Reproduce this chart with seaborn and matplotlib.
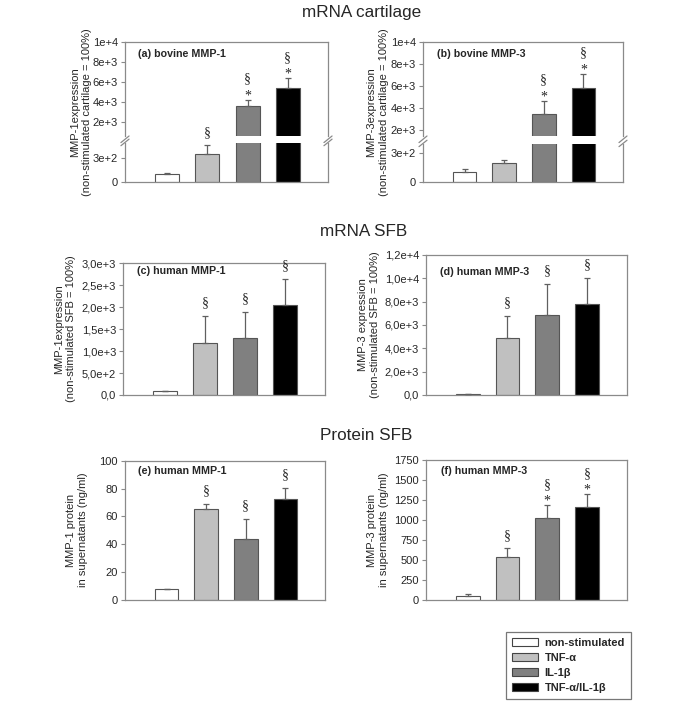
import matplotlib
matplotlib.use("Agg")
import matplotlib.pyplot as plt
from matplotlib.patches import Patch
import seaborn as sns
import pandas as pd

# ---------------- data ----------------
categories = ["non-stimulated", "TNF-α", "IL-1β", "TNF-α/IL-1β"]
bar_colors = ["#ffffff", "#c0c0c0", "#808080", "#000000"]

a_mean = [100, 360, 3600, 5350]
a_err = [15, 110, 600, 1000]
a_marks = ["", "§", "§*", "§*"]

b_mean = [100, 195, 3500, 5800]
b_err = [35, 40, 1200, 1350]
b_marks = ["", "", "§*", "§*"]

c_mean = [100, 1180, 1300, 2050]
c_err = [0, 620, 590, 600]
c_marks = ["", "§", "§", "§"]

d_mean = [60, 4900, 6900, 7800]
d_err = [0, 1870, 2620, 2230]
d_marks = ["", "§", "§", "§"]

e_mean = [7.6, 65, 43.5, 72.6]
e_err = [0.4, 4, 14.8, 7.9]
e_marks = ["", "§", "§", "§"]

f_mean = [46, 533, 1021, 1158]
f_err = [29, 113, 166, 163]
f_marks = ["", "§", "§*", "§*"]

ab_upper_ticks = [2000, 4000, 6000, 8000, 10000]
ab_upper_labels = ["2e+3", "4e+3", "6e+3", "8e+3", "1e+4"]
ab_lower_ticks = [0, 300]
ab_lower_labels = ["0", "3e+2"]
c_ticks = [0, 500, 1000, 1500, 2000, 2500, 3000]
c_labels = ["0,0", "5,0e+2", "1,0e+3", "1,5e+3", "2,0e+3", "2,5e+3", "3,0e+3"]
d_ticks = [0, 2000, 4000, 6000, 8000, 10000, 12000]
d_labels = ["0,0", "2,0e+3", "4,0e+3", "6,0e+3", "8,0e+3", "1,0e+4", "1,2e+4"]
e_ticks = [0, 20, 40, 60, 80, 100]
e_labels = ["0", "20", "40", "60", "80", "100"]
f_ticks = [0, 250, 500, 750, 1000, 1250, 1500, 1750]
f_labels = ["0", "250", "500", "750", "1000", "1250", "1500", "1750"]

section_titles = ["mRNA cartilage", "mRNA SFB", "Protein SFB"]
panel_labels = ["(a) bovine MMP-1", "(b) bovine MMP-3", "(c) human MMP-1",
                "(d) human MMP-3", "(e) human MMP-1", "(f) human MMP-3"]
ylabels = ["MMP-1expression\n(non-stimulated cartilage = 100%)",
           "MMP-3expression\n(non-stimulated cartilage = 100%)",
           "MMP-1expression\n(non-stimulated SFB = 100%)",
           "MMP-3 expression\n(non-stimulated SFB = 100%)",
           "MMP-1 protein\nin supernatants (ng/ml)",
           "MMP-3 protein\nin supernatants (ng/ml)"]

# ---------------- style ----------------
sns.set_style("white")
plt.rcParams["font.family"] = ["Liberation Sans", "DejaVu Sans"]

W, H = 685, 701
fig = plt.figure(figsize=(W / 100, H / 100), dpi=100)

SPINE = "#8a8a8a"
EDGE = "#555555"
ERRC = "#606060"
XLIM = (-1.05, 4.0)


def px_axes(left, top, right, bottom):
    return fig.add_axes([left / W, 1 - bottom / H, (right - left) / W, (bottom - top) / H])


def style_ax(ax, ticks, labels, ylim):
    ax.set_ylim(*ylim)
    ax.set_xlim(*XLIM)
    ax.set_yticks(ticks)
    ax.set_yticklabels(labels)
    ax.set_xticks([])
    ax.set_xlabel("")
    ax.set_ylabel("")
    ax.tick_params(axis="y", direction="out", length=3, width=0.8, color=SPINE,
                   labelsize=8, pad=2, left=True, right=False)
    for s in ax.spines.values():
        s.set_color(SPINE)
        s.set_linewidth(0.9)


def draw_bars(ax, mean, err):
    df = pd.DataFrame({"cond": categories, "val": mean})
    sns.barplot(data=df, x="cond", y="val", hue="cond", order=categories,
                hue_order=categories, palette=bar_colors, legend=False,
                width=0.6, edgecolor=EDGE, linewidth=0.8, ax=ax, errorbar=None)
    ax.errorbar(range(len(mean)), mean, yerr=[[0] * len(mean), err], fmt="none",
                ecolor=ERRC, elinewidth=0.9, capsize=2.2, capthick=0.9, zorder=3)


def draw_marks(ax_for, mean, err, marks):
    for i, (m, e, mk) in enumerate(zip(mean, err, marks)):
        if not mk:
            continue
        top = m + e
        ax = ax_for(top)
        if "*" in mk:
            ax.annotate("*", xy=(i, top), xytext=(0, 0.3), textcoords="offset points",
                        ha="center", va="baseline", fontsize=10,
                        family="Liberation Serif", clip_on=False, annotation_clip=False)
            ax.annotate("§", xy=(i, top), xytext=(0, 12.3), textcoords="offset points",
                        ha="center", va="baseline", fontsize=10,
                        family="Liberation Serif", clip_on=False, annotation_clip=False)
        else:
            ax.annotate("§", xy=(i, top), xytext=(0, 6.8), textcoords="offset points",
                        ha="center", va="baseline", fontsize=10,
                        family="Liberation Serif", clip_on=False, annotation_clip=False)


def panel_label(ax, text, dx, dy):
    ax.annotate(text, xy=(0, 1), xycoords="axes fraction", xytext=(dx, dy),
                textcoords="offset points", ha="left", va="center",
                fontsize=7.7, fontweight="bold")


def break_marks(ax_up, ax_lo):
    d = 0.02
    kw = dict(color=SPINE, clip_on=False, lw=0.9)
    for x in (0, 1):
        ax_up.plot([x - d, x + d], [-0.07, 0.0], transform=ax_up.transAxes, **kw)
        ax_lo.plot([x - d, x + d], [0.93, 1.1], transform=ax_lo.transAxes, **kw)


def broken_panel(left, right, top, split_up, split_lo, bottom, mean, err, marks,
                 up_lim, lo_lim, label, lab_off):
    ax_up = px_axes(left, top, right, split_up)
    ax_lo = px_axes(left, split_lo, right, bottom)
    draw_bars(ax_up, mean, err)
    draw_bars(ax_lo, mean, err)
    style_ax(ax_up, ab_upper_ticks, ab_upper_labels, up_lim)
    style_ax(ax_lo, ab_lower_ticks, ab_lower_labels, lo_lim)
    ax_up.spines["bottom"].set_visible(False)
    ax_lo.spines["top"].set_visible(False)
    break_marks(ax_up, ax_lo)
    draw_marks(lambda v: ax_up if v > lo_lim[1] else ax_lo, mean, err, marks)
    panel_label(ax_up, label, *lab_off)
    return ax_up, ax_lo


def simple_panel(left, right, top, bottom, mean, err, marks, ticks, labels, ylim,
                 label, lab_off):
    ax = px_axes(left, top, right, bottom)
    draw_bars(ax, mean, err)
    style_ax(ax, ticks, labels, ylim)
    draw_marks(lambda v: ax, mean, err, marks)
    panel_label(ax, label, *lab_off)
    return ax


# (a) and (b): broken axes
broken_panel(125, 328, 42, 136, 143, 181.7, a_mean, a_err, a_marks,
             (560, 10000), (0, 500), panel_labels[0], (9.5, -8.8))
broken_panel(423, 623, 42, 136, 144, 181.7, b_mean, b_err, b_marks,
             (1500, 10000), (0, 400), panel_labels[1], (9.8, -8.9))

# (c)-(f)
simple_panel(123, 325, 263.3, 395, c_mean, c_err, c_marks, c_ticks, c_labels,
             (0, 3000), panel_labels[2], (10, -5.6))
simple_panel(426, 626.7, 255, 395, d_mean, d_err, d_marks, d_ticks, d_labels,
             (0, 12000), panel_labels[3], (10, -12.3))
simple_panel(125, 325, 460.7, 600, e_mean, e_err, e_marks, e_ticks, e_labels,
             (0, 100), panel_labels[4], (9.2, -7.4))
simple_panel(426, 626.7, 460, 600, f_mean, f_err, f_marks, f_ticks, f_labels,
             (0, 1750), panel_labels[5], (10.5, -7.9))

# y labels (centered on each panel)
ylab_pos = [(81.5, 111.8), (377.5, 111.8), (65, 329), (369, 325), (76.5, 530), (378, 530)]
for txt, (x, y) in zip(ylabels, ylab_pos):
    fig.text(x / W, 1 - y / H, txt, rotation=90, ha="center", va="center",
             multialignment="center", fontsize=8, linespacing=1.25)

# section titles
title_pos = [(362, 12.5), (364, 231.5), (366, 436)]
for txt, (x, y) in zip(section_titles, title_pos):
    fig.text(x / W, 1 - y / H, txt, ha="center", va="center", fontsize=12.3)

# legend
handles = [Patch(facecolor=c, edgecolor="#444444", linewidth=0.8) for c in bar_colors]
leg = fig.legend(handles, categories, loc="upper left",
                 bbox_to_anchor=(500.7 / W, 1 - 626 / H), frameon=True,
                 fancybox=False, borderpad=0.55, handlelength=2.3, handleheight=0.75,
                 handletextpad=0.6, labelspacing=0.45,
                 prop={"size": 8, "weight": "bold"})
leg.get_frame().set_edgecolor("#555555")
leg.get_frame().set_linewidth(0.9)

fig.savefig("out.png", dpi=100)
